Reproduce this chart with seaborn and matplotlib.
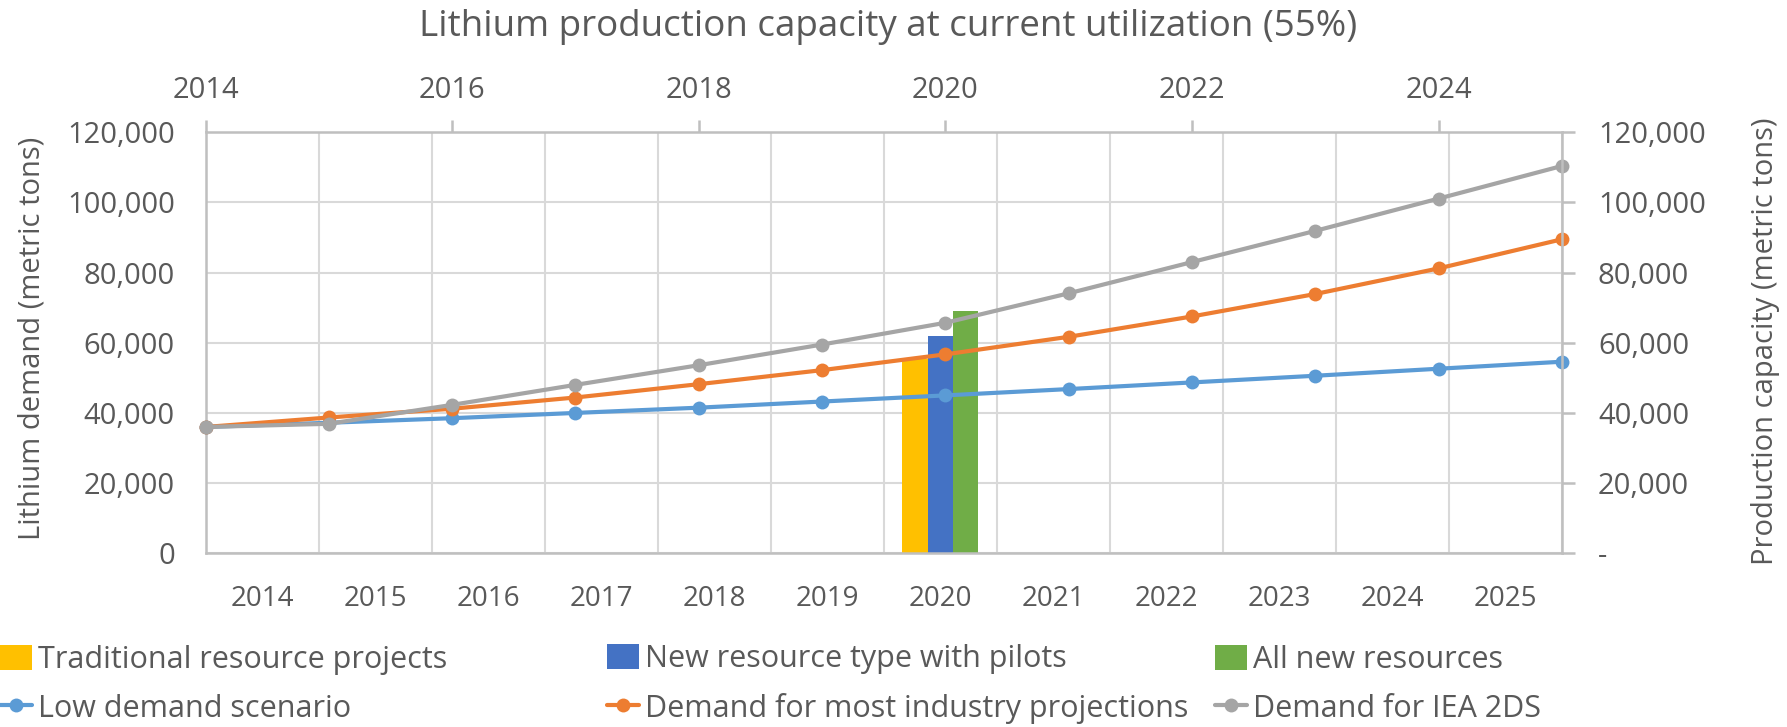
import pandas as pd
import matplotlib
matplotlib.use("Agg")
import matplotlib.pyplot as plt
import seaborn as sns
from matplotlib.patches import Patch
from matplotlib.lines import Line2D
from matplotlib.ticker import FuncFormatter, MultipleLocator

# Data
years = [2014, 2015, 2016, 2017, 2018, 2019, 2020, 2021, 2022, 2023, 2024, 2025]
low_demand = [36000, 37200, 38500, 40000, 41500, 43250, 45000, 46800, 48700, 50600, 52600, 54600]
industry_demand = [36000, 38700, 41200, 44400, 48200, 52200, 56700, 61700, 67500, 73900, 81200, 89500]
iea_demand = [36000, 36900, 42300, 48000, 53600, 59500, 65700, 74100, 83000, 91900, 101100, 110400]

bar_year = "2020"
bar_names = ["Traditional resource projects", "New resource type with pilots", "All new resources"]
bar_values = [55500, 62000, 69000]
line_names = ["Low demand scenario", "Demand for most industry projections", "Demand for IEA 2DS"]

bar_colors = ["#FFC000", "#4472C4", "#70AD47"]
line_colors = ["#5B9BD5", "#ED7D31", "#A5A5A5"]
text_color = "#595959"
grid_color = "#D9D9D9"
axis_color = "#BFBFBF"

sns.set_theme(style="white")
plt.rcParams["font.family"] = ["Open Sans", "DejaVu Sans"]

bars = pd.DataFrame({"year": [bar_year] * 3, "series": bar_names, "value": bar_values})
lines = pd.DataFrame({
    "year": years * 3,
    "series": [line_names[0]] * 12 + [line_names[1]] * 12 + [line_names[2]] * 12,
    "value": low_demand + industry_demand + iea_demand,
})

fig = plt.figure(figsize=(17.87, 7.27), dpi=100)
pos = [0.115, 0.239, 0.759, 0.579]
ax = fig.add_axes(pos)

# bars on the category axis (bottom / left)
sns.barplot(data=bars, x="year", y="value", hue="series", order=[str(y) for y in years],
            hue_order=bar_names, palette=bar_colors, width=0.67, saturation=1,
            linewidth=0, legend=False, ax=ax, zorder=2)
ax.set_xlim(-0.5, 11.5)
ax.set_ylim(0, 120000)
ax.yaxis.set_major_locator(MultipleLocator(20000))
ax.yaxis.set_major_formatter(FuncFormatter(lambda v, p: f"{int(v):,}"))
ax.set_xticks(range(12))
ax.set_xticklabels([str(y) for y in years])
ax.set_xticks([i - 0.5 for i in range(13)], minor=True)
ax.grid(True, axis="y", color=grid_color, lw=1.5, zorder=0)
ax.grid(True, axis="x", which="minor", color=grid_color, lw=1.5, zorder=0)
ax.set_axisbelow(True)
ax.set_xlabel("")
ax.set_ylabel("")
ax.tick_params(axis="x", which="both", length=0, pad=23, labelsize=20, labelcolor=text_color)
ax.tick_params(axis="y", length=0, pad=22, labelsize=21, labelcolor=text_color)
for s in ["top", "right"]:
    ax.spines[s].set_visible(False)
for s in ["left", "bottom"]:
    ax.spines[s].set_color(axis_color)
    ax.spines[s].set_linewidth(1.8)

# lines on the secondary axes (top / right)
ax2 = fig.add_axes(pos)
ax2.patch.set_visible(False)
sns.lineplot(data=lines, x="year", y="value", hue="series", hue_order=line_names,
             palette=line_colors, marker="o", markersize=10, markeredgewidth=0,
             linewidth=3, legend=False, ax=ax2, clip_on=False)
ax2.set_xlim(2014, 2025)
ax2.set_ylim(0, 120000)
ax2.xaxis.tick_top()
ax2.yaxis.tick_right()
ax2.set_xticks([2014, 2016, 2018, 2020, 2022, 2024])
ax2.yaxis.set_major_locator(MultipleLocator(20000))
ax2.yaxis.set_major_formatter(FuncFormatter(lambda v, p: "-" if v == 0 else f"{int(v):,}"))
ax2.set_xlabel("")
ax2.set_ylabel("")
ax2.tick_params(axis="x", top=True, bottom=False, length=9, width=1.8, color=axis_color,
                pad=11, labelsize=21, labelcolor=text_color)
ax2.tick_params(axis="y", right=True, left=False, length=9, width=1.8, color=axis_color,
                pad=17, labelsize=21, labelcolor=text_color)
for s in ["left", "bottom"]:
    ax2.spines[s].set_visible(False)
for s in ["top", "right"]:
    ax2.spines[s].set_color(axis_color)
    ax2.spines[s].set_linewidth(1.8)

fig.text(0.497, 0.963, "Lithium production capacity at current utilization (55%)",
         ha="center", va="center", fontsize=26.5, color=text_color)
fig.text(0.018, 0.535, "Lithium demand (metric tons)", rotation=90,
         ha="center", va="center", fontsize=21, color=text_color)
fig.text(0.988, 0.53, "Production capacity (metric tons)", rotation=90,
         ha="center", va="center", fontsize=21, color=text_color)

# legend, one block per column like the Excel layout
col_x = [-0.007, 0.333, 0.673]
for i in range(3):
    handles = [
        Patch(facecolor=bar_colors[i], edgecolor="none"),
        Line2D([], [], color=line_colors[i], lw=3, marker="o", markersize=10, markeredgewidth=0),
    ]
    fig.legend(handles, [bar_names[i], line_names[i]], loc="lower left",
               bbox_to_anchor=(col_x[i], -0.012), frameon=False, fontsize=22,
               labelcolor=text_color, handlelength=1.05, handleheight=0.9,
               handletextpad=0.2, labelspacing=0.6, borderaxespad=0.2, borderpad=0.2)

fig.savefig("out.png", dpi=100)
